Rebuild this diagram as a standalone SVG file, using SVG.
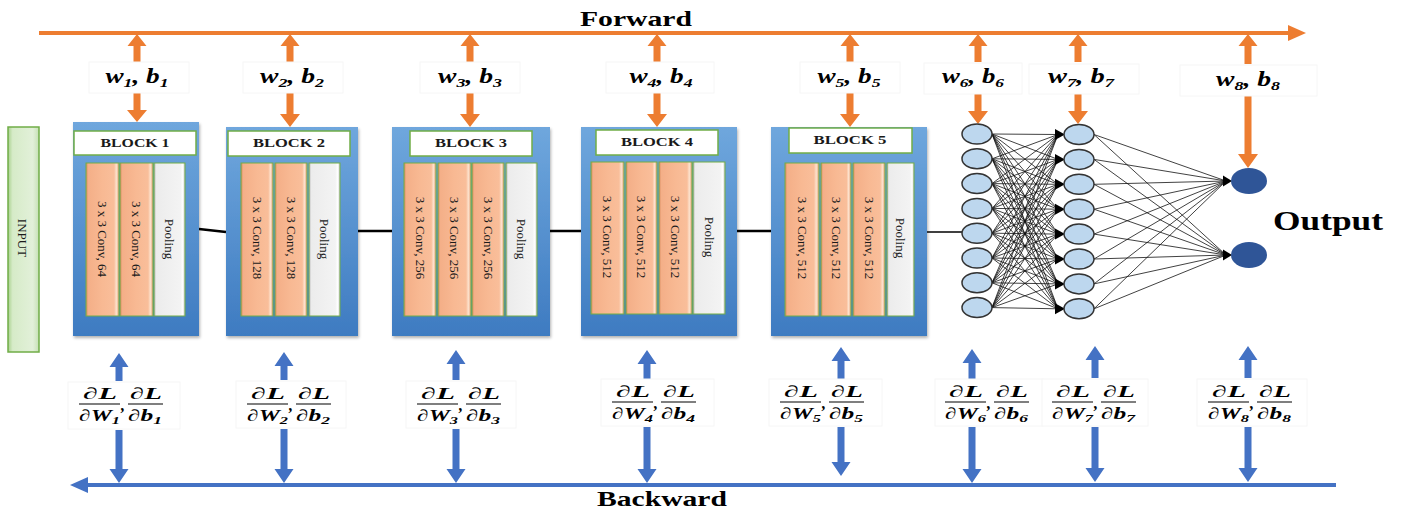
<svg xmlns="http://www.w3.org/2000/svg" width="1404" height="513" viewBox="0 0 1404 513">
<style>
.ttl{font-family:"Liberation Serif",serif;font-weight:bold;fill:#000}
.hdr{font-family:"Liberation Serif",serif;font-weight:bold;font-size:12.5px;fill:#1a1a1a}
.col{font-family:"Liberation Serif",serif;font-size:13px;fill:#1a1a1a}
.math{font-family:"Liberation Serif",serif;font-weight:bold;font-style:italic;fill:#000}
.wb{font-size:20px}
.fr{font-size:16px}
.lbox{fill:#fff;stroke:#f6f6f6;stroke-width:1}
.orange{fill:#ED7D31}
.blue{fill:#4472C4}
.block{fill:url(#blockGrad);filter:url(#shadow)}
.header{fill:#fff;stroke:#70AD47;stroke-width:1.5}
.conv{fill:url(#convGrad);stroke:#70AD47;stroke-width:1}
.pool{fill:url(#poolGrad);stroke:#70AD47;stroke-width:1}
.bar{stroke:#000;stroke-width:1.2}
.n1{fill:#BDD7EE;stroke:#333;stroke-width:1.5}
.nout{fill:#2F5597}
.link{stroke:#000;stroke-width:2.5;fill:none}
.mesh{stroke:#111;stroke-width:0.8;fill:none}
.head{fill:#000}
</style>
<defs>
<linearGradient id="blockGrad" x1="0" y1="0" x2="0" y2="1">
<stop offset="0" stop-color="#6FA7DD"/>
<stop offset="1" stop-color="#3E7BC1"/>
</linearGradient>
<linearGradient id="convGrad" x1="0" y1="0" x2="1" y2="0">
<stop offset="0" stop-color="#D68A5E"/>
<stop offset="0.07" stop-color="#F4AF88"/>
<stop offset="0.5" stop-color="#F8B993"/>
<stop offset="0.85" stop-color="#F9BE9A"/>
<stop offset="0.92" stop-color="#FDE2CD"/>
<stop offset="1" stop-color="#E3A078"/>
</linearGradient>
<linearGradient id="poolGrad" x1="0" y1="0" x2="1" y2="0">
<stop offset="0" stop-color="#AFAFAF"/>
<stop offset="0.07" stop-color="#ECECEC"/>
<stop offset="0.85" stop-color="#F3F3F3"/>
<stop offset="0.93" stop-color="#FFFFFF"/>
<stop offset="1" stop-color="#C4C4C4"/>
</linearGradient>
<linearGradient id="inputGrad" x1="0" y1="0" x2="1" y2="0">
<stop offset="0" stop-color="#A9D18E"/>
<stop offset="0.15" stop-color="#D6EBC8"/>
<stop offset="0.8" stop-color="#E2F0D9"/>
<stop offset="1" stop-color="#C5E0B4"/>
</linearGradient>
<filter id="shadow" x="-10%" y="-10%" width="120%" height="120%">
<feDropShadow dx="1" dy="2" stdDeviation="1.5" flood-color="#000" flood-opacity="0.3"/>
</filter>
</defs>

<rect width="1404" height="513" fill="#fff"/>

<!-- titles -->
<text class="ttl" x="580" y="26" font-size="21" textLength="112" lengthAdjust="spacingAndGlyphs">Forward</text>
<text class="ttl" x="597" y="506" font-size="21" textLength="130" lengthAdjust="spacingAndGlyphs">Backward</text>

<g id="connectors">
<!-- forward line -->
<rect class="orange" x="39" y="31" width="1253" height="4"/>
<polygon class="orange" points="1288,25 1306,33 1288,41"/>
<!-- backward line -->
<rect class="blue" x="86" y="483" width="1250" height="4"/>
<polygon class="blue" points="88,477 70,485 88,493"/>

<!-- orange arrows (up to forward line, down to layers) -->
<g class="orange">
<polygon points="137,34 146.5,46 140.5,46 140.5,62 133.5,62 133.5,46 127.5,46"/>
<polygon points="133.5,93 140.5,93 140.5,110 147,110 137,122 127,110 133.5,110"/>
<polygon points="290,34 299.5,46 293.5,46 293.5,62 286.5,62 286.5,46 280.5,46"/>
<polygon points="286.5,93 293.5,93 293.5,114 300,114 290,127 280,114 286.5,114"/>
<polygon points="470,34 479.5,46 473.5,46 473.5,62 466.5,62 466.5,46 460.5,46"/>
<polygon points="466.5,93 473.5,93 473.5,114 480,114 470,127 460,114 466.5,114"/>
<polygon points="657,34 666.5,46 660.5,46 660.5,62 653.5,62 653.5,46 647.5,46"/>
<polygon points="653.5,93 660.5,93 660.5,114 667,114 657,127 647,114 653.5,114"/>
<polygon points="850,34 859.5,46 853.5,46 853.5,62 846.5,62 846.5,46 840.5,46"/>
<polygon points="846.5,93 853.5,93 853.5,114 860,114 850,127 840,114 846.5,114"/>
<polygon points="978,34 987.5,46 981.5,46 981.5,62 974.5,62 974.5,46 968.5,46"/>
<polygon points="974.5,93 981.5,93 981.5,111 988,111 978,124 968,111 974.5,111"/>
<polygon points="1078,34 1087.5,46 1081.5,46 1081.5,62 1074.5,62 1074.5,46 1068.5,46"/>
<polygon points="1074.5,93 1081.5,93 1081.5,111 1088,111 1078,124 1068,111 1074.5,111"/>
<polygon points="1248,34 1257.5,46 1251.5,46 1251.5,64 1244.5,64 1244.5,46 1238.5,46"/>
<polygon points="1244.5,96 1251.5,96 1251.5,154 1258,154 1248,168 1238,154 1244.5,154"/>
</g>

<!-- blue arrows -->
<g class="blue">
<polygon points="119,353 128.5,367 122.5,367 122.5,381 115.5,381 115.5,367 109.5,367"/>
<polygon points="115.5,430 122.5,430 122.5,469 128.5,469 119,483 109.5,469 115.5,469"/>
<polygon points="284,352 293.5,366 287.5,366 287.5,380 280.5,380 280.5,366 274.5,366"/>
<polygon points="280.5,429 287.5,429 287.5,469 293.5,469 284,483 274.5,469 280.5,469"/>
<polygon points="456,350 465.5,364 459.5,364 459.5,380 452.5,380 452.5,364 446.5,364"/>
<polygon points="452.5,429 459.5,429 459.5,469 465.5,469 456,483 446.5,469 452.5,469"/>
<polygon points="647,350 656.5,364 650.5,364 650.5,379 643.5,379 643.5,364 637.5,364"/>
<polygon points="643.5,427 650.5,427 650.5,469 656.5,469 647,483 637.5,469 643.5,469"/>
<polygon points="841,347 850.5,361 844.5,361 844.5,379 837.5,379 837.5,361 831.5,361"/>
<polygon points="837.5,427 844.5,427 844.5,462 850.5,462 841,476 831.5,462 837.5,462"/>
<polygon points="972,349 981.5,363 975.5,363 975.5,379 968.5,379 968.5,363 962.5,363"/>
<polygon points="968.5,427 975.5,427 975.5,469 981.5,469 972,483 962.5,469 968.5,469"/>
<polygon points="1095,346 1104.5,360 1098.5,360 1098.5,378 1091.5,378 1091.5,360 1085.5,360"/>
<polygon points="1091.5,427 1098.5,427 1098.5,468 1104.5,468 1095,482 1085.5,468 1091.5,468"/>
<polygon points="1248,346 1257.5,360 1251.5,360 1251.5,378 1244.5,378 1244.5,360 1238.5,360"/>
<polygon points="1244.5,427 1251.5,427 1251.5,468 1257.5,468 1248,482 1238.5,468 1244.5,468"/>
</g>

<!-- block links -->
<path class="link" d="M199,229 L226,232 M358,231 H392 M550,231 H581 M737,231 H771"/>
<path class="link" style="stroke-width:1.5" d="M927,232 H962"/>

<!-- dense layer connections -->
<path class="mesh" d="
M992,134 L1058,134.5 M992,134 L1058,159.4 M992,134 L1058,184.3 M992,134 L1058,209.2 M992,134 L1058,234.1 M992,134 L1058,259 M992,134 L1058,283.9 M992,134 L1058,308.8
M992,158.8 L1058,134.5 M992,158.8 L1058,159.4 M992,158.8 L1058,184.3 M992,158.8 L1058,209.2 M992,158.8 L1058,234.1 M992,158.8 L1058,259 M992,158.8 L1058,283.9 M992,158.8 L1058,308.8
M992,183.6 L1058,134.5 M992,183.6 L1058,159.4 M992,183.6 L1058,184.3 M992,183.6 L1058,209.2 M992,183.6 L1058,234.1 M992,183.6 L1058,259 M992,183.6 L1058,283.9 M992,183.6 L1058,308.8
M992,208.4 L1058,134.5 M992,208.4 L1058,159.4 M992,208.4 L1058,184.3 M992,208.4 L1058,209.2 M992,208.4 L1058,234.1 M992,208.4 L1058,259 M992,208.4 L1058,283.9 M992,208.4 L1058,308.8
M992,233.2 L1058,134.5 M992,233.2 L1058,159.4 M992,233.2 L1058,184.3 M992,233.2 L1058,209.2 M992,233.2 L1058,234.1 M992,233.2 L1058,259 M992,233.2 L1058,283.9 M992,233.2 L1058,308.8
M992,258 L1058,134.5 M992,258 L1058,159.4 M992,258 L1058,184.3 M992,258 L1058,209.2 M992,258 L1058,234.1 M992,258 L1058,259 M992,258 L1058,283.9 M992,258 L1058,308.8
M992,282.8 L1058,134.5 M992,282.8 L1058,159.4 M992,282.8 L1058,184.3 M992,282.8 L1058,209.2 M992,282.8 L1058,234.1 M992,282.8 L1058,259 M992,282.8 L1058,283.9 M992,282.8 L1058,308.8
M992,307.6 L1058,134.5 M992,307.6 L1058,159.4 M992,307.6 L1058,184.3 M992,307.6 L1058,209.2 M992,307.6 L1058,234.1 M992,307.6 L1058,259 M992,307.6 L1058,283.9 M992,307.6 L1058,308.8
M1094,134.5 L1226,181 M1094,159.4 L1226,181 M1094,184.3 L1226,181 M1094,209.2 L1226,181 M1094,234.1 L1226,181 M1094,259 L1226,181 M1094,283.9 L1226,181 M1094,308.8 L1226,181
M1094,134.5 L1226,255 M1094,159.4 L1226,255 M1094,184.3 L1226,255 M1094,209.2 L1226,255 M1094,234.1 L1226,255 M1094,259 L1226,255 M1094,283.9 L1226,255 M1094,308.8 L1226,255"/>
<g class="head">
<polygon points="1055,129 1065,134.5 1055,140"/>
<polygon points="1055,153.9 1065,159.4 1055,164.9"/>
<polygon points="1055,178.8 1065,184.3 1055,189.8"/>
<polygon points="1055,203.7 1065,209.2 1055,214.7"/>
<polygon points="1055,228.6 1065,234.1 1055,239.6"/>
<polygon points="1055,253.5 1065,259 1055,264.5"/>
<polygon points="1055,278.4 1065,283.9 1055,289.4"/>
<polygon points="1055,303.3 1065,308.8 1055,314.3"/>
<polygon points="1223,175.5 1232,181 1223,186.5"/>
<polygon points="1223,249.5 1232,255 1223,260.5"/>
</g>
</g>

<!-- INPUT -->
<g id="input">
<rect x="8" y="127" width="31" height="225" fill="url(#inputGrad)" stroke="#70AD47" stroke-width="1.5"/>
<text class="col" x="18" y="238" font-size="14" text-anchor="middle" transform="rotate(90 18 238)">INPUT</text>
</g>

<!-- BLOCK 1 -->
<g id="block1">
<rect class="block" x="73" y="122" width="126" height="214"/>
<rect class="header" x="74" y="131" width="122" height="24"/>
<text class="hdr" x="135" y="147" text-anchor="middle" textLength="69" lengthAdjust="spacingAndGlyphs">BLOCK 1</text>
<rect class="conv" x="86" y="163" width="33" height="153"/>
<rect class="conv" x="120" y="163" width="33" height="153"/>
<rect class="pool" x="154" y="163" width="31" height="153"/>
<text class="col" x="98" y="239" text-anchor="middle" transform="rotate(90 98 239)">3 x 3 Conv, 64</text>
<text class="col" x="132" y="239" text-anchor="middle" transform="rotate(90 132 239)">3 x 3 Conv, 64</text>
<text class="col" x="165" y="239" text-anchor="middle" transform="rotate(90 165 239)">Pooling</text>
</g>

<!-- BLOCK 2 -->
<g id="block2">
<rect class="block" x="226" y="127" width="132" height="209"/>
<rect class="header" x="228" y="131" width="122" height="25"/>
<text class="hdr" x="289" y="147" text-anchor="middle" textLength="72" lengthAdjust="spacingAndGlyphs">BLOCK 2</text>
<rect class="conv" x="241" y="163" width="32" height="153"/>
<rect class="conv" x="275" y="163" width="32" height="153"/>
<rect class="pool" x="309" y="163" width="31" height="153"/>
<text class="col" x="252.5" y="238" text-anchor="middle" transform="rotate(90 252.5 238)">3 x 3 Conv, 128</text>
<text class="col" x="286.5" y="238" text-anchor="middle" transform="rotate(90 286.5 238)">3 x 3 Conv, 128</text>
<text class="col" x="320" y="239" text-anchor="middle" transform="rotate(90 320 239)">Pooling</text>
</g>

<!-- BLOCK 3 -->
<g id="block3">
<rect class="block" x="392" y="127" width="158" height="209"/>
<rect class="header" x="410" y="131" width="122" height="25"/>
<text class="hdr" x="471" y="147" text-anchor="middle" textLength="72" lengthAdjust="spacingAndGlyphs">BLOCK 3</text>
<rect class="conv" x="404" y="163" width="32" height="153"/>
<rect class="conv" x="438" y="163" width="33" height="153"/>
<rect class="conv" x="472" y="163" width="32" height="153"/>
<rect class="pool" x="506" y="163" width="31" height="153"/>
<text class="col" x="415.5" y="238" text-anchor="middle" transform="rotate(90 415.5 238)">3 x 3 Conv, 256</text>
<text class="col" x="450" y="238" text-anchor="middle" transform="rotate(90 450 238)">3 x 3 Conv, 256</text>
<text class="col" x="483.5" y="238" text-anchor="middle" transform="rotate(90 483.5 238)">3 x 3 Conv, 256</text>
<text class="col" x="517" y="239" text-anchor="middle" transform="rotate(90 517 239)">Pooling</text>
</g>

<!-- BLOCK 4 -->
<g id="block4">
<rect class="block" x="581" y="127" width="156" height="209"/>
<rect class="header" x="596" y="130" width="122" height="25"/>
<text class="hdr" x="657" y="146" text-anchor="middle" textLength="72" lengthAdjust="spacingAndGlyphs">BLOCK 4</text>
<rect class="conv" x="591" y="162" width="33" height="152"/>
<rect class="conv" x="626" y="162" width="31" height="152"/>
<rect class="conv" x="659" y="162" width="33" height="152"/>
<rect class="pool" x="693" y="162" width="32" height="152"/>
<text class="col" x="603" y="237" text-anchor="middle" transform="rotate(90 603 237)">3 x 3 Conv, 512</text>
<text class="col" x="637" y="237" text-anchor="middle" transform="rotate(90 637 237)">3 x 3 Conv, 512</text>
<text class="col" x="671" y="237" text-anchor="middle" transform="rotate(90 671 237)">3 x 3 Conv, 512</text>
<text class="col" x="704.5" y="237" text-anchor="middle" transform="rotate(90 704.5 237)">Pooling</text>
</g>

<!-- BLOCK 5 -->
<g id="block5">
<rect class="block" x="771" y="127" width="156" height="209"/>
<rect class="header" x="789" y="128" width="123" height="25"/>
<text class="hdr" x="850" y="144" text-anchor="middle" textLength="73" lengthAdjust="spacingAndGlyphs">BLOCK 5</text>
<rect class="conv" x="785" y="163" width="34" height="153"/>
<rect class="conv" x="821" y="163" width="30" height="153"/>
<rect class="conv" x="853" y="163" width="32" height="153"/>
<rect class="pool" x="887" y="163" width="27" height="153"/>
<text class="col" x="797.5" y="238" text-anchor="middle" transform="rotate(90 797.5 238)">3 x 3 Conv, 512</text>
<text class="col" x="831.5" y="238" text-anchor="middle" transform="rotate(90 831.5 238)">3 x 3 Conv, 512</text>
<text class="col" x="864.5" y="238" text-anchor="middle" transform="rotate(90 864.5 238)">3 x 3 Conv, 512</text>
<text class="col" x="896" y="238" text-anchor="middle" transform="rotate(90 896 238)">Pooling</text>
</g>

<!-- dense layer 1 -->
<g id="layer1">
<ellipse class="n1" cx="977" cy="134" rx="15" ry="10"/>
<ellipse class="n1" cx="977" cy="158.8" rx="15" ry="10"/>
<ellipse class="n1" cx="977" cy="183.6" rx="15" ry="10"/>
<ellipse class="n1" cx="977" cy="208.4" rx="15" ry="10"/>
<ellipse class="n1" cx="977" cy="233.2" rx="15" ry="10"/>
<ellipse class="n1" cx="977" cy="258" rx="15" ry="10"/>
<ellipse class="n1" cx="977" cy="282.8" rx="15" ry="10"/>
<ellipse class="n1" cx="977" cy="307.6" rx="15" ry="10"/>
</g>

<!-- dense layer 2 -->
<g id="layer2">
<ellipse class="n1" cx="1079" cy="134.5" rx="15" ry="10"/>
<ellipse class="n1" cx="1079" cy="159.4" rx="15" ry="10"/>
<ellipse class="n1" cx="1079" cy="184.3" rx="15" ry="10"/>
<ellipse class="n1" cx="1079" cy="209.2" rx="15" ry="10"/>
<ellipse class="n1" cx="1079" cy="234.1" rx="15" ry="10"/>
<ellipse class="n1" cx="1079" cy="259" rx="15" ry="10"/>
<ellipse class="n1" cx="1079" cy="283.9" rx="15" ry="10"/>
<ellipse class="n1" cx="1079" cy="308.8" rx="15" ry="10"/>
</g>

<!-- output layer -->
<g id="output">
<ellipse class="nout" cx="1249" cy="181" rx="18" ry="13"/>
<ellipse class="nout" cx="1249" cy="255" rx="18" ry="13"/>
<text class="ttl" x="1273" y="230" font-size="27" textLength="110" lengthAdjust="spacingAndGlyphs">Output</text>
</g>

<!-- weight labels -->
<g id="weights">
<rect class="lbox" x="89" y="62" width="100" height="31"/>
<text class="math wb" x="137" y="83" text-anchor="middle" textLength="63" lengthAdjust="spacingAndGlyphs">w<tspan font-size="13" dy="4">1</tspan><tspan dy="-4">, b</tspan><tspan font-size="13" dy="4">1</tspan></text>
<rect class="lbox" x="243" y="62" width="100" height="31"/>
<text class="math wb" x="292" y="83" text-anchor="middle" textLength="64" lengthAdjust="spacingAndGlyphs">w<tspan font-size="13" dy="4">2</tspan><tspan dy="-4">, b</tspan><tspan font-size="13" dy="4">2</tspan></text>
<rect class="lbox" x="420" y="62" width="100" height="31"/>
<text class="math wb" x="470" y="83" text-anchor="middle" textLength="64" lengthAdjust="spacingAndGlyphs">w<tspan font-size="13" dy="4">3</tspan><tspan dy="-4">, b</tspan><tspan font-size="13" dy="4">3</tspan></text>
<rect class="lbox" x="606" y="62" width="108" height="31"/>
<text class="math wb" x="661" y="83" text-anchor="middle" textLength="63" lengthAdjust="spacingAndGlyphs">w<tspan font-size="13" dy="4">4</tspan><tspan dy="-4">, b</tspan><tspan font-size="13" dy="4">4</tspan></text>
<rect class="lbox" x="800" y="62" width="100" height="31"/>
<text class="math wb" x="849" y="83" text-anchor="middle" textLength="63" lengthAdjust="spacingAndGlyphs">w<tspan font-size="13" dy="4">5</tspan><tspan dy="-4">, b</tspan><tspan font-size="13" dy="4">5</tspan></text>
<rect class="lbox" x="924" y="63" width="98" height="31"/>
<text class="math wb" x="973" y="83" text-anchor="middle" textLength="62" lengthAdjust="spacingAndGlyphs">w<tspan font-size="13" dy="4">6</tspan><tspan dy="-4">, b</tspan><tspan font-size="13" dy="4">6</tspan></text>
<rect class="lbox" x="1029" y="64" width="110" height="30"/>
<text class="math wb" x="1081" y="83" text-anchor="middle" textLength="66" lengthAdjust="spacingAndGlyphs">w<tspan font-size="13" dy="4">7</tspan><tspan dy="-4">, b</tspan><tspan font-size="13" dy="4">7</tspan></text>
<rect class="lbox" x="1180" y="65" width="137" height="31"/>
<text class="math wb" x="1248" y="86" text-anchor="middle" textLength="64" lengthAdjust="spacingAndGlyphs">w<tspan font-size="13" dy="4">8</tspan><tspan dy="-4">, b</tspan><tspan font-size="13" dy="4">8</tspan></text>
</g>

<!-- gradient labels -->
<g id="gradients">
<g transform="translate(79,0)">
<rect class="lbox" x="-11" y="382" width="112" height="47"/>
<text class="math fr" x="21" y="399" text-anchor="middle" textLength="34" lengthAdjust="spacingAndGlyphs">∂L</text>
<line class="bar" x1="0" y1="404" x2="41" y2="404"/>
<text class="math fr" x="0" y="421" textLength="41" lengthAdjust="spacingAndGlyphs">∂W<tspan font-size="11" dy="3">1</tspan></text>
<text class="math fr" x="42" y="411">,</text>
<text class="math fr" x="67" y="399" text-anchor="middle" textLength="32" lengthAdjust="spacingAndGlyphs">∂L</text>
<line class="bar" x1="49" y1="404" x2="84" y2="404"/>
<text class="math fr" x="49" y="421" textLength="34" lengthAdjust="spacingAndGlyphs">∂b<tspan font-size="11" dy="3">1</tspan></text>
</g>
<g transform="translate(247,0)">
<rect class="lbox" x="-11" y="381" width="110" height="47"/>
<text class="math fr" x="21" y="399" text-anchor="middle" textLength="34" lengthAdjust="spacingAndGlyphs">∂L</text>
<line class="bar" x1="0" y1="404" x2="41" y2="404"/>
<text class="math fr" x="0" y="421" textLength="41" lengthAdjust="spacingAndGlyphs">∂W<tspan font-size="11" dy="3">2</tspan></text>
<text class="math fr" x="42" y="411">,</text>
<text class="math fr" x="67" y="399" text-anchor="middle" textLength="32" lengthAdjust="spacingAndGlyphs">∂L</text>
<line class="bar" x1="49" y1="404" x2="84" y2="404"/>
<text class="math fr" x="49" y="421" textLength="34" lengthAdjust="spacingAndGlyphs">∂b<tspan font-size="11" dy="3">2</tspan></text>
</g>
<g transform="translate(417,0)">
<rect class="lbox" x="-11" y="381" width="110" height="47"/>
<text class="math fr" x="21" y="399" text-anchor="middle" textLength="34" lengthAdjust="spacingAndGlyphs">∂L</text>
<line class="bar" x1="0" y1="404" x2="41" y2="404"/>
<text class="math fr" x="0" y="421" textLength="41" lengthAdjust="spacingAndGlyphs">∂W<tspan font-size="11" dy="3">3</tspan></text>
<text class="math fr" x="42" y="411">,</text>
<text class="math fr" x="67" y="399" text-anchor="middle" textLength="32" lengthAdjust="spacingAndGlyphs">∂L</text>
<line class="bar" x1="49" y1="404" x2="84" y2="404"/>
<text class="math fr" x="49" y="421" textLength="34" lengthAdjust="spacingAndGlyphs">∂b<tspan font-size="11" dy="3">3</tspan></text>
</g>
<g transform="translate(612,0)">
<rect class="lbox" x="-11" y="379" width="113" height="47"/>
<text class="math fr" x="21" y="397" text-anchor="middle" textLength="34" lengthAdjust="spacingAndGlyphs">∂L</text>
<line class="bar" x1="0" y1="402" x2="41" y2="402"/>
<text class="math fr" x="0" y="419" textLength="41" lengthAdjust="spacingAndGlyphs">∂W<tspan font-size="11" dy="3">4</tspan></text>
<text class="math fr" x="42" y="409">,</text>
<text class="math fr" x="67" y="397" text-anchor="middle" textLength="32" lengthAdjust="spacingAndGlyphs">∂L</text>
<line class="bar" x1="49" y1="402" x2="84" y2="402"/>
<text class="math fr" x="49" y="419" textLength="34" lengthAdjust="spacingAndGlyphs">∂b<tspan font-size="11" dy="3">4</tspan></text>
</g>
<g transform="translate(780,0)">
<rect class="lbox" x="-11" y="379" width="113" height="47"/>
<text class="math fr" x="21" y="397" text-anchor="middle" textLength="34" lengthAdjust="spacingAndGlyphs">∂L</text>
<line class="bar" x1="0" y1="402" x2="41" y2="402"/>
<text class="math fr" x="0" y="419" textLength="41" lengthAdjust="spacingAndGlyphs">∂W<tspan font-size="11" dy="3">5</tspan></text>
<text class="math fr" x="42" y="409">,</text>
<text class="math fr" x="67" y="397" text-anchor="middle" textLength="32" lengthAdjust="spacingAndGlyphs">∂L</text>
<line class="bar" x1="49" y1="402" x2="84" y2="402"/>
<text class="math fr" x="49" y="419" textLength="34" lengthAdjust="spacingAndGlyphs">∂b<tspan font-size="11" dy="3">5</tspan></text>
</g>
<g transform="translate(945,0)">
<rect class="lbox" x="-10" y="379" width="108" height="47"/>
<text class="math fr" x="21" y="397" text-anchor="middle" textLength="34" lengthAdjust="spacingAndGlyphs">∂L</text>
<line class="bar" x1="0" y1="402" x2="41" y2="402"/>
<text class="math fr" x="0" y="419" textLength="41" lengthAdjust="spacingAndGlyphs">∂W<tspan font-size="11" dy="3">6</tspan></text>
<text class="math fr" x="42" y="409">,</text>
<text class="math fr" x="67" y="397" text-anchor="middle" textLength="32" lengthAdjust="spacingAndGlyphs">∂L</text>
<line class="bar" x1="49" y1="402" x2="84" y2="402"/>
<text class="math fr" x="49" y="419" textLength="34" lengthAdjust="spacingAndGlyphs">∂b<tspan font-size="11" dy="3">6</tspan></text>
</g>
<g transform="translate(1052,0)">
<rect class="lbox" x="-10" y="379" width="106" height="47"/>
<text class="math fr" x="21" y="397" text-anchor="middle" textLength="34" lengthAdjust="spacingAndGlyphs">∂L</text>
<line class="bar" x1="0" y1="402" x2="41" y2="402"/>
<text class="math fr" x="0" y="419" textLength="41" lengthAdjust="spacingAndGlyphs">∂W<tspan font-size="11" dy="3">7</tspan></text>
<text class="math fr" x="42" y="409">,</text>
<text class="math fr" x="67" y="397" text-anchor="middle" textLength="32" lengthAdjust="spacingAndGlyphs">∂L</text>
<line class="bar" x1="49" y1="402" x2="84" y2="402"/>
<text class="math fr" x="49" y="419" textLength="34" lengthAdjust="spacingAndGlyphs">∂b<tspan font-size="11" dy="3">7</tspan></text>
</g>
<g transform="translate(1208,0)">
<rect class="lbox" x="-11" y="379" width="110" height="47"/>
<text class="math fr" x="21" y="397" text-anchor="middle" textLength="34" lengthAdjust="spacingAndGlyphs">∂L</text>
<line class="bar" x1="0" y1="402" x2="41" y2="402"/>
<text class="math fr" x="0" y="419" textLength="41" lengthAdjust="spacingAndGlyphs">∂W<tspan font-size="11" dy="3">8</tspan></text>
<text class="math fr" x="42" y="409">,</text>
<text class="math fr" x="67" y="397" text-anchor="middle" textLength="32" lengthAdjust="spacingAndGlyphs">∂L</text>
<line class="bar" x1="49" y1="402" x2="84" y2="402"/>
<text class="math fr" x="49" y="419" textLength="34" lengthAdjust="spacingAndGlyphs">∂b<tspan font-size="11" dy="3">8</tspan></text>
</g>
</g>
</svg>
